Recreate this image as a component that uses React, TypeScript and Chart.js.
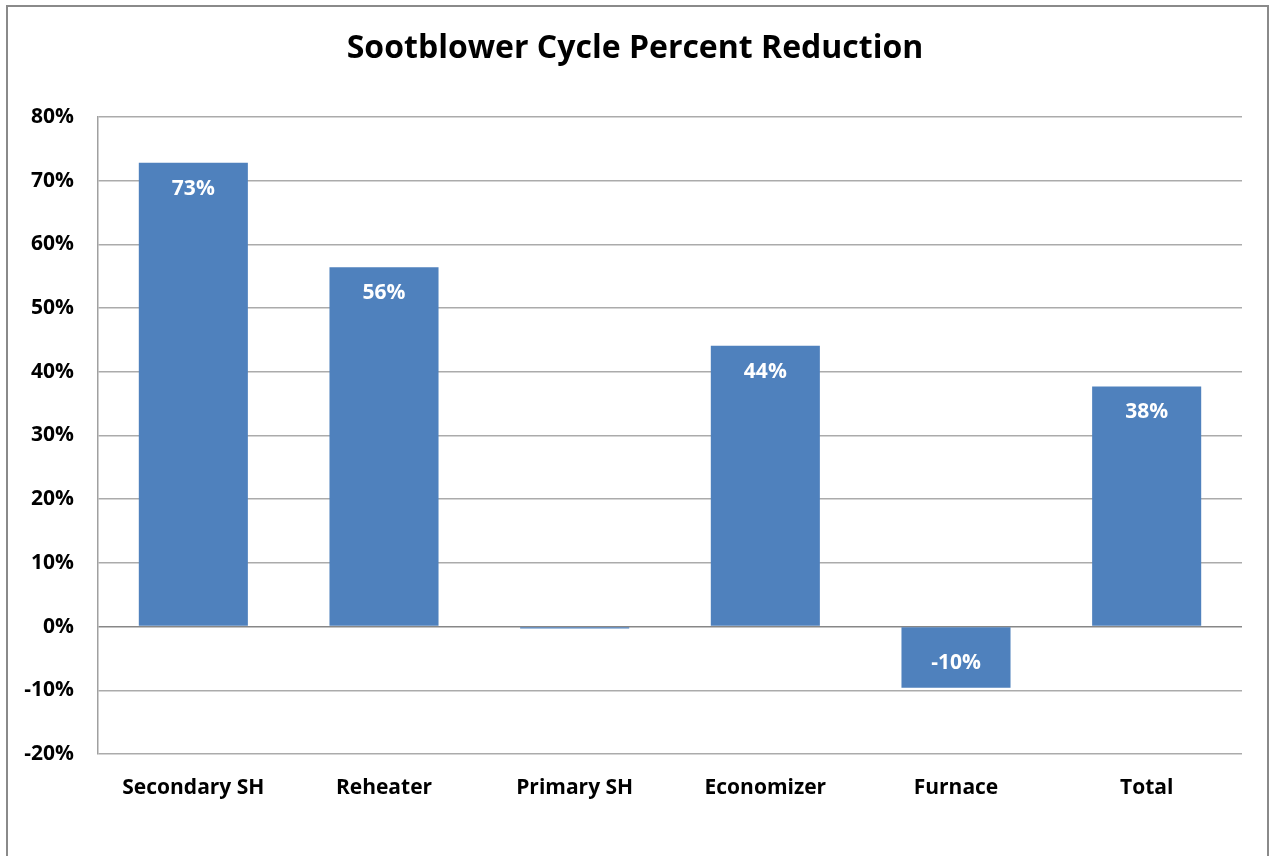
import React, { useEffect, useRef } from "react";
import { Chart, registerables } from "chart.js";

Chart.register(...registerables);

const chartTitle = "Sootblower Cycle Percent Reduction";
const categories = ["Secondary SH", "Reheater", "Primary SH", "Economizer", "Furnace", "Total"];
const reductionValues = [0.728, 0.564, -0.003, 0.441, -0.096, 0.377];
const yTickMin = -0.2;
const yTickMax = 0.8;
const yTickStep = 0.1;

const FONT = "'Open Sans', 'Liberation Sans', sans-serif";

const framePlugin = {
  id: "frame",
  beforeDraw(chart: any) {
    const ctx = chart.ctx;
    ctx.save();
    ctx.fillStyle = "#ffffff";
    ctx.fillRect(0, 0, chart.width, chart.height);
    ctx.strokeStyle = "#8a8a8a";
    ctx.lineWidth = 2;
    ctx.strokeRect(7, 6, 1261, 880);
    ctx.fillStyle = "#000000";
    ctx.font = `bold 32px ${FONT}`;
    ctx.textAlign = "center";
    ctx.textBaseline = "middle";
    ctx.fillText(chartTitle, chart.width / 2, 49);
    ctx.restore();
  },
};

const labelPlugin = {
  id: "barLabels",
  afterDatasetsDraw(chart: any) {
    const ctx = chart.ctx;
    const meta = chart.getDatasetMeta(0);
    const data = chart.data.datasets[0].data as number[];
    ctx.save();
    ctx.fillStyle = "#ffffff";
    ctx.font = `bold 21px ${FONT}`;
    ctx.textAlign = "center";
    ctx.textBaseline = "middle";
    meta.data.forEach((bar: any, i: number) => {
      const v = data[i];
      if (Math.abs(v) < 0.01) return;
      const txt = `${Math.round(v * 100)}%`;
      const y = v >= 0 ? bar.y + 26 : bar.y - 25;
      ctx.fillText(txt, bar.x, y);
    });
    ctx.restore();
  },
};

export default function App() {
  const ref = useRef<HTMLCanvasElement | null>(null);
  useEffect(() => {
    if (!ref.current) return;
    const chart = new Chart(ref.current, {
      type: "bar",
      data: {
        labels: categories,
        datasets: [
          {
            data: reductionValues,
            backgroundColor: "#4f81bd",
            borderWidth: 0,
            barPercentage: 0.572,
            categoryPercentage: 1,
          },
        ],
      },
      options: {
        responsive: false,
        animation: false,
        layout: { padding: { left: 0, right: 28, top: 117, bottom: 0 } },
        plugins: {
          legend: { display: false },
          tooltip: { enabled: false },
          title: { display: false },
        },
        scales: {
          x: {
            grid: { display: false, drawTicks: false },
            border: { display: false },
            ticks: {
              color: "#000000",
              font: { family: FONT, size: 21, weight: "bold" },
              padding: 21,
              maxRotation: 0,
            },
            afterFit(scale: any) {
              scale.height = 102;
            },
          },
          y: {
            min: yTickMin,
            max: yTickMax,
            grid: {
              drawTicks: false,
              color: (c: any) => (c.tick && Math.abs(c.tick.value) < 1e-9 ? "#878787" : "#ababab"),
              lineWidth: 1.5,
            },
            border: { display: true, color: "#a0a0a0", width: 1.5 },
            ticks: {
              stepSize: yTickStep,
              color: "#000000",
              font: { family: FONT, size: 21, weight: "bold" },
              padding: 24,
              callback: (v: any) => `${Math.round(Number(v) * 100)}%`,
            },
            afterFit(scale: any) {
              scale.width = 98;
            },
          },
        },
      },
      plugins: [framePlugin, labelPlugin],
    });
    return () => chart.destroy();
  }, []);
  return (
    <div style={{ position: "fixed", left: 0, top: 0, width: 1270, height: 856 }}>
      <canvas ref={ref} width={1270} height={856} />
    </div>
  );
}
